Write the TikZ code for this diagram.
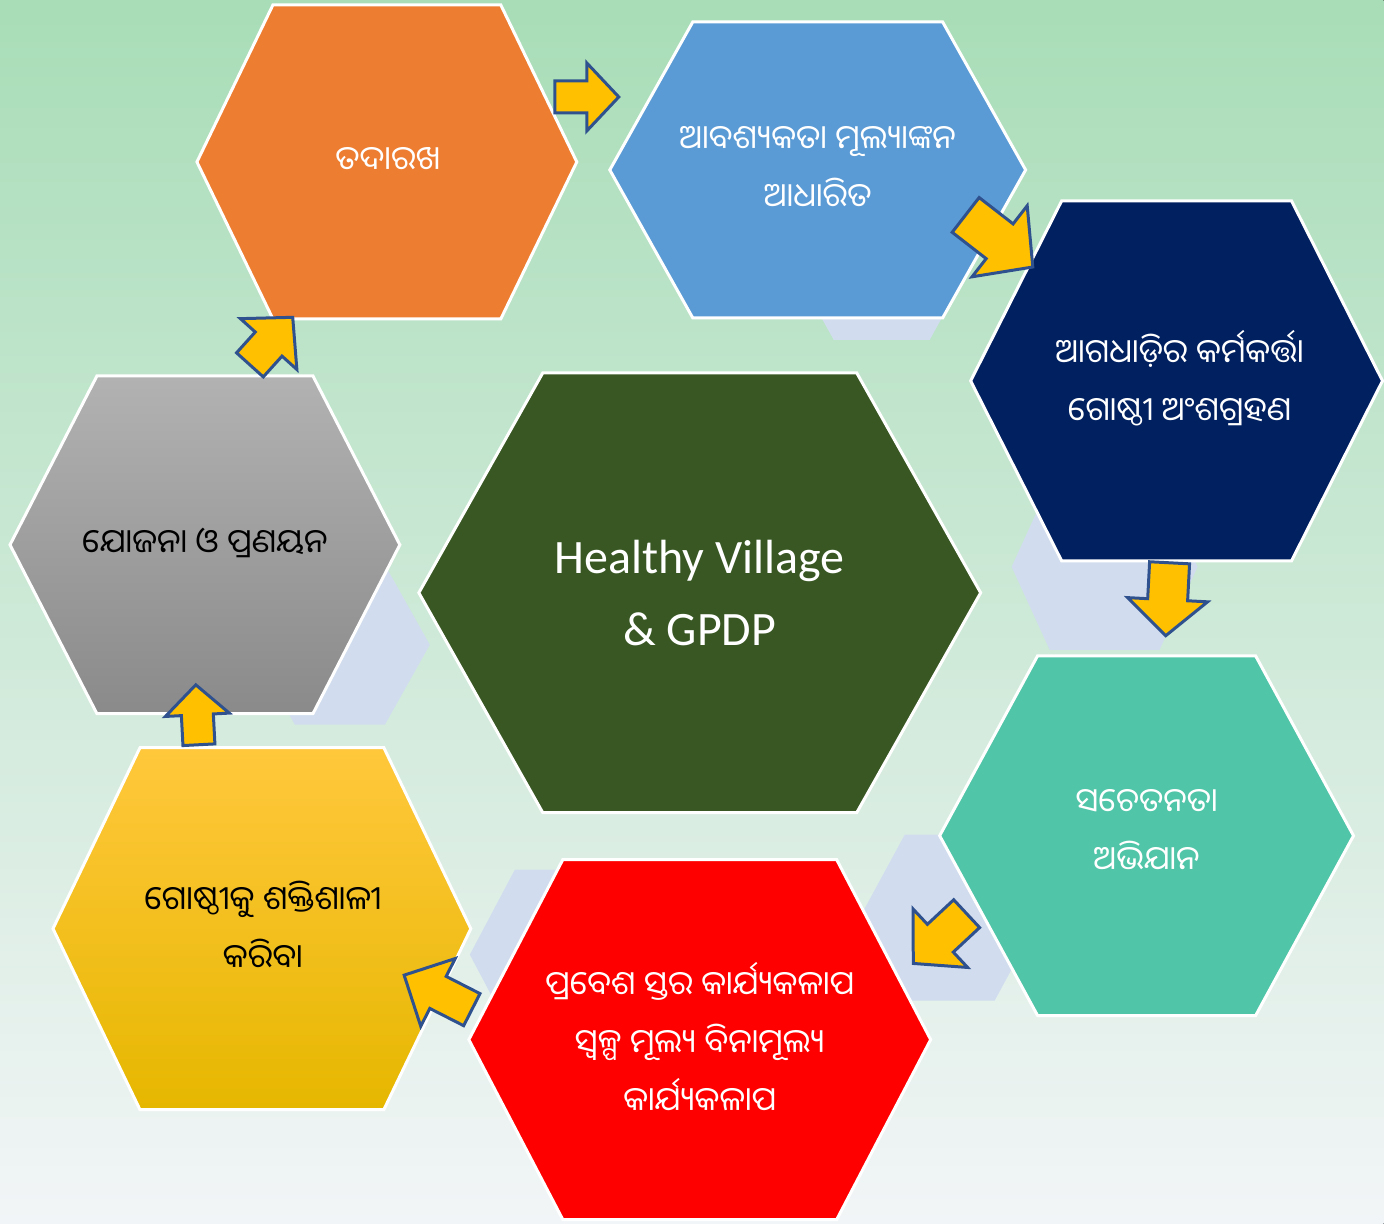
\documentclass[tikz,border=0pt]{standalone}
\usepackage{fontspec}
\setmainfont{Carlito}
\newfontfamily\oriya[Script=Oriya]{Noto Sans Oriya UI}

\definecolor{bgtop}{RGB}{168,221,183}
\definecolor{bgbottom}{RGB}{242,245,247}
\definecolor{palehex}{RGB}{209,221,238}
\definecolor{orangehex}{RGB}{237,125,49}
\definecolor{bluehex}{RGB}{91,155,213}
\definecolor{navyhex}{RGB}{0,32,96}
\definecolor{tealhex}{RGB}{80,197,167}
\definecolor{redhex}{RGB}{255,0,0}
\definecolor{greenhex}{RGB}{56,87,35}
\definecolor{graytop}{RGB}{178,178,178}
\definecolor{graybottom}{RGB}{138,138,138}
\definecolor{yellowtop}{RGB}{255,200,60}
\definecolor{yellowbottom}{RGB}{230,183,0}
\definecolor{arrowyellow}{RGB}{255,192,0}
\definecolor{arrowblue}{RGB}{47,82,143}

\tikzset{
  hexborder/.style={draw=white, line width=1.5pt, line join=miter},
  palecell/.style={fill=palehex, draw=none},
  flowarrow/.style={fill=arrowyellow, draw=arrowblue, line width=1.5pt, line join=miter},
  odiatext/.style={font=\oriya\fontsize{16.5}{29}\selectfont, align=center},
}

% hexagon: style, cx, cy, half width, half top edge, half height
\newcommand{\hexcell}[6]{%
  \filldraw[#1] ({#2-#4},#3) -- ({#2-#5},{#3-#6}) -- ({#2+#5},{#3-#6})
    -- ({#2+#4},#3) -- ({#2+#5},{#3+#6}) -- ({#2-#5},{#3+#6}) -- cycle;}

% block arrow: x, y (tail centre), angle, length, half shaft, half head, head length
\newcommand{\cyclearrow}[7]{%
  \begin{scope}[shift={(#1,#2)},rotate={-(#3)}]
    \filldraw[flowarrow] (0,-#5) -- ({#4-#7},-#5) -- ({#4-#7},-#6) -- (#4,0)
      -- ({#4-#7},#6) -- ({#4-#7},#5) -- (0,#5) -- cycle;
  \end{scope}}

\begin{document}
\begin{tikzpicture}[x=0.5pt,y=-0.5pt]
  \fill[top color=bgtop, bottom color=bgbottom] (0,0) rectangle (1384,1224);

  % pale hexagons behind
  \hexcell{palecell}{882}{255}{95}{48}{85}
  \hexcell{palecell}{1105}{567}{93}{55}{83}
  \hexcell{palecell}{340}{645}{90}{45}{80}
  \hexcell{palecell}{950}{918}{90}{45}{83}
  \hexcell{palecell}{600}{955}{130}{85}{85}

  % the cycle
  \hexcell{hexborder,fill=orangehex}{387}{162}{190}{114}{157}
  \hexcell{hexborder,fill=bluehex}{818}{170}{208}{125}{148}
  \hexcell{hexborder,fill=navyhex}{1177}{381}{206}{115}{180}
  \hexcell{hexborder,fill=tealhex}{1147}{836}{207}{109}{180}
  \hexcell{hexborder,fill=redhex}{700}{1040}{231}{137}{180}
  \hexcell{hexborder,top color=yellowtop,bottom color=yellowbottom}{262}{929}{209}{122}{181}
  \hexcell{hexborder,top color=graytop,bottom color=graybottom}{205}{545}{195}{108}{169}
  \hexcell{hexborder,fill=greenhex}{700}{593}{281}{157}{220}

  \node[odiatext, text=white] (monitor) at (388,160) {ତଦାରଖ};
  \node[odiatext, text=white] (needs) at (818,168) {ଆବଶ୍ୟକତା ମୂଲ୍ୟାଙ୍କନ\\ଆଧାରିତ};
  \node[odiatext, text=white] (frontline) at (1180,378) {ଆଗଧାଡ଼ିର କର୍ମକର୍ତ୍ତା\\ଗୋଷ୍ଠୀ ଅଂଶଗ୍ରହଣ};
  \node[odiatext, text=white] (awareness) at (1147,831) {ସଚେତନତା\\ଅଭିଯାନ};
  \node[odiatext, text=white] (entry) at (700,1038) {ପ୍ରବେଶ ସ୍ତର କାର୍ଯ୍ୟକଳାପ\\ସ୍ୱଳ୍ପ ମୂଲ୍ୟ ବିନାମୂଲ୍ୟ\\କାର୍ଯ୍ୟକଳାପ};
  \node[odiatext] (empower) at (263,926) {ଗୋଷ୍ଠୀକୁ ଶକ୍ତିଶାଳୀ\\କରିବା};
  \node[odiatext] (planning) at (205,543) {ଯୋଜନା ଓ ପ୍ରଣୟନ};
  \node[font=\fontsize{24}{36}\selectfont, text=white, align=center] (hub) at (700,593) {Healthy Village\\\& GPDP};

  % arrows round the cycle
  \cyclearrow{555}{97}{0}{64}{16}{34}{32}
  \cyclearrow{966}{215}{37.8}{85}{22}{45}{42}
  \cyclearrow{1170}{563}{93}{73}{20}{40}{36}
  \cyclearrow{967}{914}{137}{73}{19}{40}{37}
  \cyclearrow{472}{1010}{207}{76}{18}{38}{38}
  \cyclearrow{199}{745}{-93}{60}{16}{32}{30}
  \cyclearrow{250}{365}{-48}{64}{18}{38}{36}
\end{tikzpicture}
\end{document}
